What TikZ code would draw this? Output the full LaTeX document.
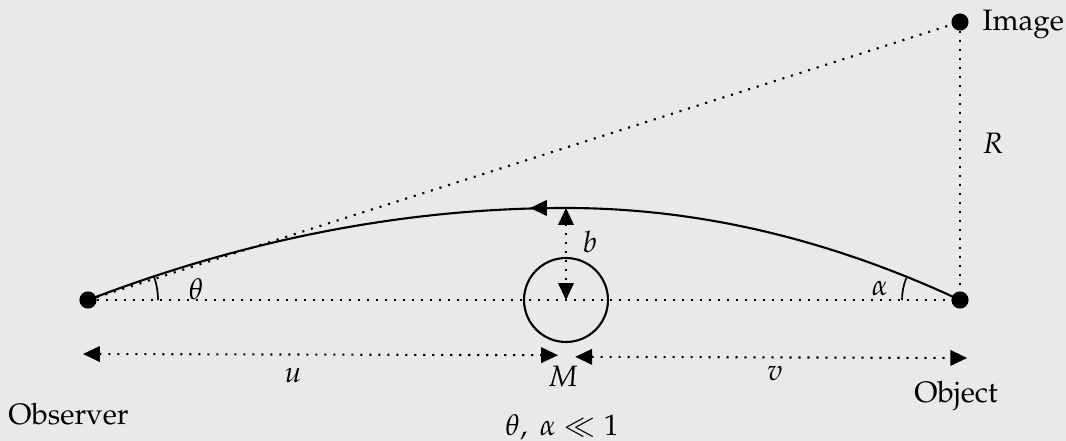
\documentclass[tikz,border=0pt]{standalone}
\usepackage[T1]{fontenc}
\usepackage{mathpazo}
\usepackage{amsmath}
\usepackage{amssymb}
\usetikzlibrary{arrows.meta}
\definecolor{bgcol}{RGB}{233,233,233}
\tikzset{
    dots/.style={line width=0.75pt, dash pattern=on 0.75pt off 2.45pt},
    ray/.style={line width=0.75pt},
    lbl/.style={anchor=base, inner sep=0pt}
}

\begin{document}
\begin{tikzpicture}[font=\fontsize{10.5}{12}\selectfont, >={Triangle[length=6pt,width=5.5pt]}]
    \useasboundingbox[fill=bgcol] (-1.1,-1.7625) rectangle (12.225,3.75);
    \coordinate (obs) at (0,0);
    \coordinate (obj) at (10.9,0);
    \coordinate (img) at (10.9,3.475);
    \coordinate (lens) at (5.975,0);
    \coordinate (peak) at (5.975,1.15);
    % dotted guide lines
    \draw[dots] (obs) -- (obj);
    \draw[dots] (obs) -- (img);
    \draw[dots] (img) -- (obj);
    % light ray
    \draw[ray] (obs) .. controls (1.991,0.766) and (3.984,1.15) .. (peak)
        .. controls (7.616,1.15) and (9.259,0.766) .. (obj);
    \draw[ray,->] (peak) -- ++(-0.45,0);
    % lens mass
    \draw[ray] (lens) circle (0.525);
    \draw[dots,<->] (peak) -- (lens);
    % angles
    \draw[line width=0.6pt] ([shift={(0:0.875)}]obs) arc[start angle=0,end angle=20,radius=0.875];
    \draw[line width=0.6pt] ([shift={(180:0.725)}]obj) arc[start angle=180,end angle=158,radius=0.725];
    % points
    \filldraw [black] (obs) circle (0.1);
    \filldraw [black] (obj) circle (0.1);
    \filldraw [black] (img) circle (0.1);
    % distances
    \coordinate (uL) at (-0.0625,-0.675);
    \coordinate (uR) at (5.875,-0.69);
    \coordinate (vL) at (6.09,-0.71);
    \coordinate (vR) at (10.99,-0.725);
    \draw[dots,<->] (uL) -- (uR);
    \draw[dots,<->] (vL) -- (vR);
    % labels
    \node[lbl] (thlab) at (1.35,0) {$\theta$};
    \node[lbl] (allab) at (9.9,0.05) {$\alpha$};
    \node[lbl] (blab) at (6.275,0.5875) {$b$};
    \node[lbl] (Rlab) at (11.31,1.825) {$R$};
    \node[lbl, anchor=base west] (imglab) at (11.175,3.3625) {Image};
    \node[lbl] (ulab) at (2.5625,-1.0375) {$u$};
    \node[lbl] (vlab) at (8.5875,-1.0125) {$v$};
    \node[lbl] (Mlab) at (5.9375,-1.0875) {$M$};
    \node[lbl] (objlab) at (10.85,-1.2875) {Object};
    \node[lbl] (obslab) at (-0.244,-1.5625) {Observer};
    \node[lbl] (cond) at (5.925,-1.7) {$\theta,\ \alpha \ll 1$};
\end{tikzpicture}
\end{document}
